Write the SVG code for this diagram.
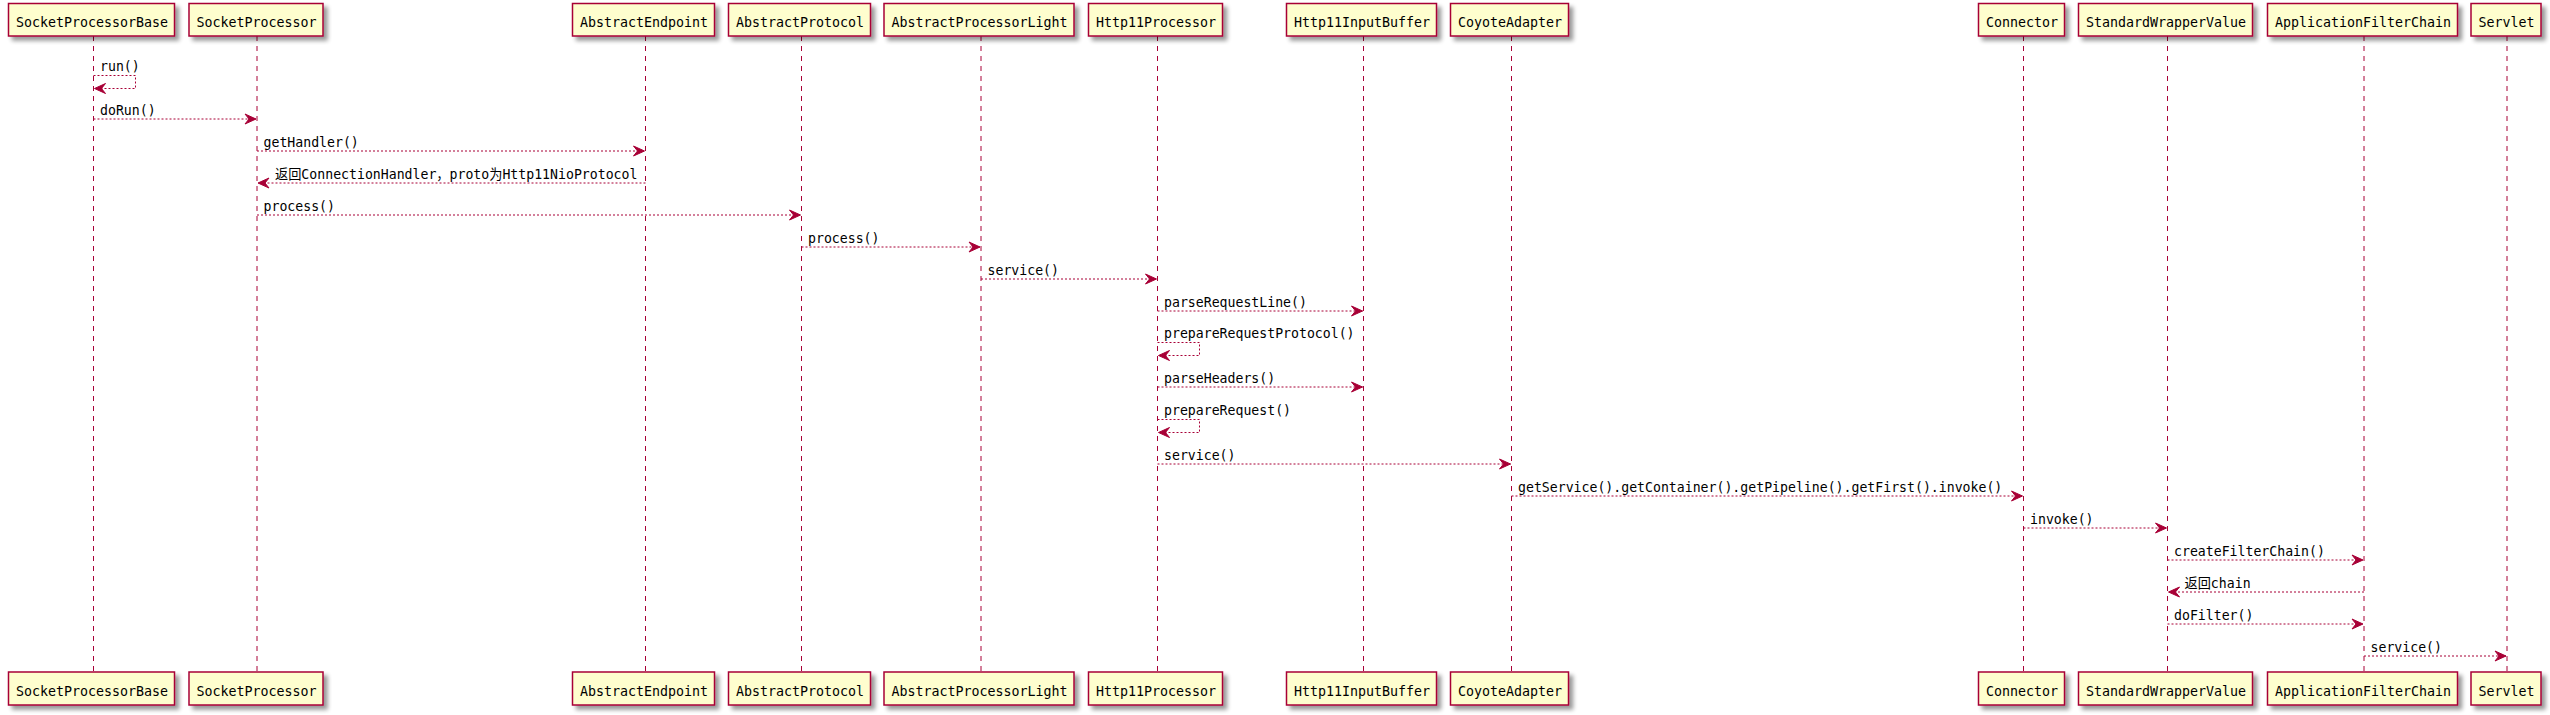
<svg xmlns="http://www.w3.org/2000/svg" width="2550" height="715" viewBox="0 0 2550 715">
<defs>
<style>
.box{fill:#FEFECE;stroke:#A80036;stroke-width:1.5;filter:url(#sh)}
.pt{font-family:"DejaVu Sans Mono","Liberation Mono","Noto Sans CJK SC",monospace;font-size:13.3px;fill:#000}
.life{stroke:#A80036;stroke-width:1;stroke-dasharray:5,5;fill:none}
.msg{stroke:#A80036;stroke-width:1;stroke-dasharray:2,2;fill:none;marker-end:url(#ah)}
.mt{font-family:"DejaVu Sans Mono","Liberation Mono","Noto Sans CJK SC",monospace;font-size:13.2px;fill:#000}
</style>
<filter id="sh" x="-10%" y="-20%" width="130%" height="160%">
<feGaussianBlur in="SourceAlpha" stdDeviation="2"/>
<feOffset dx="4" dy="4" result="b"/>
<feComponentTransfer><feFuncA type="linear" slope="0.4"/></feComponentTransfer>
<feMerge><feMergeNode/><feMergeNode in="SourceGraphic"/></feMerge>
</filter>
<marker id="ah" markerUnits="userSpaceOnUse" viewBox="-12 -6 13 12" refX="0" refY="0" markerWidth="13" markerHeight="12" orient="auto">
<path d="M0,0 L-11,-5 L-7,0 L-11,5 Z" fill="#A80036" stroke="#A80036" stroke-width="1" stroke-dasharray="none"/>
</marker>
</defs>
<rect width="2550" height="715" fill="#fff"/>

<g id="lifelines">
<line class="life" x1="93.5" y1="36" x2="93.5" y2="672"/>
<line class="life" x1="257" y1="36" x2="257" y2="672"/>
<line class="life" x1="645.5" y1="36" x2="645.5" y2="672"/>
<line class="life" x1="801.5" y1="36" x2="801.5" y2="672"/>
<line class="life" x1="981" y1="36" x2="981" y2="672"/>
<line class="life" x1="1157.5" y1="36" x2="1157.5" y2="672"/>
<line class="life" x1="1363.5" y1="36" x2="1363.5" y2="672"/>
<line class="life" x1="1511.5" y1="36" x2="1511.5" y2="672"/>
<line class="life" x1="2023.5" y1="36" x2="2023.5" y2="672"/>
<line class="life" x1="2167.5" y1="36" x2="2167.5" y2="672"/>
<line class="life" x1="2364" y1="36" x2="2364" y2="672"/>
<line class="life" x1="2507" y1="36" x2="2507" y2="672"/>
</g>

<g id="SocketProcessorBase">
<rect class="box" x="8.5" y="3.5" width="166" height="32.5"/><text class="pt" x="16" y="26.5">SocketProcessorBase</text>
<rect class="box" x="8.5" y="672" width="166" height="33"/><text class="pt" x="16" y="695.5">SocketProcessorBase</text>
</g>
<g id="SocketProcessor">
<rect class="box" x="189" y="3.5" width="134" height="32.5"/><text class="pt" x="196.5" y="26.5">SocketProcessor</text>
<rect class="box" x="189" y="672" width="134" height="33"/><text class="pt" x="196.5" y="695.5">SocketProcessor</text>
</g>
<g id="AbstractEndpoint">
<rect class="box" x="572.5" y="3.5" width="142" height="32.5"/><text class="pt" x="580" y="26.5">AbstractEndpoint</text>
<rect class="box" x="572.5" y="672" width="142" height="33"/><text class="pt" x="580" y="695.5">AbstractEndpoint</text>
</g>
<g id="AbstractProtocol">
<rect class="box" x="728.5" y="3.5" width="142" height="32.5"/><text class="pt" x="736" y="26.5">AbstractProtocol</text>
<rect class="box" x="728.5" y="672" width="142" height="33"/><text class="pt" x="736" y="695.5">AbstractProtocol</text>
</g>
<g id="AbstractProcessorLight">
<rect class="box" x="884" y="3.5" width="190" height="32.5"/><text class="pt" x="891.5" y="26.5">AbstractProcessorLight</text>
<rect class="box" x="884" y="672" width="190" height="33"/><text class="pt" x="891.5" y="695.5">AbstractProcessorLight</text>
</g>
<g id="Http11Processor">
<rect class="box" x="1088.5" y="3.5" width="134" height="32.5"/><text class="pt" x="1096" y="26.5">Http11Processor</text>
<rect class="box" x="1088.5" y="672" width="134" height="33"/><text class="pt" x="1096" y="695.5">Http11Processor</text>
</g>
<g id="Http11InputBuffer">
<rect class="box" x="1286.5" y="3.5" width="150" height="32.5"/><text class="pt" x="1294" y="26.5">Http11InputBuffer</text>
<rect class="box" x="1286.5" y="672" width="150" height="33"/><text class="pt" x="1294" y="695.5">Http11InputBuffer</text>
</g>
<g id="CoyoteAdapter">
<rect class="box" x="1450.5" y="3.5" width="118" height="32.5"/><text class="pt" x="1458" y="26.5">CoyoteAdapter</text>
<rect class="box" x="1450.5" y="672" width="118" height="33"/><text class="pt" x="1458" y="695.5">CoyoteAdapter</text>
</g>
<g id="Connector">
<rect class="box" x="1978.5" y="3.5" width="86" height="32.5"/><text class="pt" x="1986" y="26.5">Connector</text>
<rect class="box" x="1978.5" y="672" width="86" height="33"/><text class="pt" x="1986" y="695.5">Connector</text>
</g>
<g id="StandardWrapperValue">
<rect class="box" x="2078.5" y="3.5" width="174" height="32.5"/><text class="pt" x="2086" y="26.5">StandardWrapperValue</text>
<rect class="box" x="2078.5" y="672" width="174" height="33"/><text class="pt" x="2086" y="695.5">StandardWrapperValue</text>
</g>
<g id="ApplicationFilterChain">
<rect class="box" x="2267.5" y="3.5" width="190" height="32.5"/><text class="pt" x="2275" y="26.5">ApplicationFilterChain</text>
<rect class="box" x="2267.5" y="672" width="190" height="33"/><text class="pt" x="2275" y="695.5">ApplicationFilterChain</text>
</g>
<g id="Servlet">
<rect class="box" x="2471" y="3.5" width="70" height="32.5"/><text class="pt" x="2478.5" y="26.5">Servlet</text>
<rect class="box" x="2471" y="672" width="70" height="33"/><text class="pt" x="2478.5" y="695.5">Servlet</text>
</g>

<g id="connectors">
<path class="msg" d="M93.5,75.5 H135.5 V88.5 H94.5"/>
<text class="mt" x="100" y="71">run()</text>
<path class="msg" d="M93.5,119 H256"/>
<text class="mt" x="100" y="115">doRun()</text>
<path class="msg" d="M257,151 H644.5"/>
<text class="mt" x="263.5" y="147">getHandler()</text>
<path class="msg" d="M645.5,183 H258"/>
<text class="mt" x="275" y="179">返回ConnectionHandler，proto为Http11NioProtocol</text>
<path class="msg" d="M257,215 H800.5"/>
<text class="mt" x="263.5" y="211">process()</text>
<path class="msg" d="M801.5,247 H980"/>
<text class="mt" x="808" y="243">process()</text>
<path class="msg" d="M981,279 H1156.5"/>
<text class="mt" x="987.5" y="275">service()</text>
<path class="msg" d="M1157.5,311 H1362.5"/>
<text class="mt" x="1164" y="307">parseRequestLine()</text>
<path class="msg" d="M1157.5,342.5 H1199.5 V355.5 H1158.5"/>
<text class="mt" x="1164" y="338">prepareRequestProtocol()</text>
<path class="msg" d="M1157.5,387 H1362.5"/>
<text class="mt" x="1164" y="383">parseHeaders()</text>
<path class="msg" d="M1157.5,419.5 H1199.5 V432.5 H1158.5"/>
<text class="mt" x="1164" y="415">prepareRequest()</text>
<path class="msg" d="M1157.5,464 H1510.5"/>
<text class="mt" x="1164" y="460">service()</text>
<path class="msg" d="M1511.5,496 H2022.5"/>
<text class="mt" x="1518" y="492">getService().getContainer().getPipeline().getFirst().invoke()</text>
<path class="msg" d="M2023.5,528 H2166.5"/>
<text class="mt" x="2030" y="524">invoke()</text>
<path class="msg" d="M2167.5,560 H2363"/>
<text class="mt" x="2174" y="556">createFilterChain()</text>
<path class="msg" d="M2364,592 H2168.5"/>
<text class="mt" x="2184.5" y="588">返回chain</text>
<path class="msg" d="M2167.5,624 H2363"/>
<text class="mt" x="2174" y="620">doFilter()</text>
<path class="msg" d="M2364,656 H2506"/>
<text class="mt" x="2370.5" y="652">service()</text>
</g>
</svg>
